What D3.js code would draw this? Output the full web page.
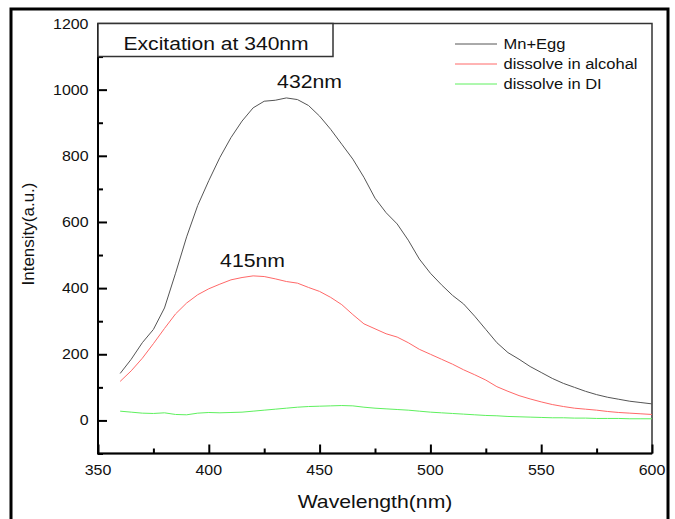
<!DOCTYPE html>
<html>
<head>
<meta charset="utf-8">
<script src="https://cdn.jsdelivr.net/npm/d3@7"></script>
<style>
  body { margin: 0; background: #fff; }
  svg { font-family: Arial, "Liberation Sans", sans-serif; }
</style>
</head>
<body>
<svg width="675" height="519"></svg>
<script>
// wavelength (nm)
const wavelength = [360,365,370,375,380,385,390,395,400,405,410,415,420,425,430,435,440,445,450,455,460,465,470,475,480,485,490,495,500,505,510,515,520,525,530,535,540,545,550,555,560,565,570,575,580,585,590,595,600];

// intensities
const mnEgg = [142,185,235,275,340,445,555,650,725,795,855,905,945,965,968,975,970,952,920,880,835,790,735,672,628,594,545,488,445,410,378,352,315,275,235,205,185,163,145,127,112,100,88,78,70,64,58,54,50];
const alcohol = [118,150,188,232,278,322,355,380,398,412,425,432,437,435,428,420,415,402,390,372,350,320,292,277,262,252,235,215,200,185,170,153,138,122,102,88,75,65,56,48,42,37,34,31,27,24,22,20,18];
const diWater = [28,25,22,21,23,18,17,22,24,23,24,25,28,31,34,37,40,42,43,44,45,44,40,37,35,33,31,28,25,23,21,19,17,15,14,12,11,10,9,8,8,7,7,6,6,6,5,5,5];

const seriesNames = ["Mn+Egg", "dissolve in alcohal", "dissolve in DI"];
const seriesColors = ["#555555", "#ff6868", "#5ef05e"];
const seriesValues = [mnEgg, alcohol, diWater];

const xTicks = [350, 400, 450, 500, 550, 600];
const yTicks = [0, 200, 400, 600, 800, 1000, 1200];
const xMinor = [375, 425, 475, 525, 575];
const yMinor = [-100, 100, 300, 500, 700, 900, 1100];

const svg = d3.select("svg");
const stretch = 1.14; // the original picture is a bit wider than tall

// text helper, horizontally stretched like the source image
function label(px, py, str, size, anchor) {
  return svg.append("text")
    .attr("transform", `translate(${px},${py}) scale(${stretch},1)`)
    .attr("text-anchor", anchor || "start")
    .attr("font-size", size)
    .attr("fill", "#111")
    .text(str);
}

// outer frame
svg.append("rect")
  .attr("x", 11).attr("y", 9)
  .attr("width", 657).attr("height", 530)
  .attr("fill", "none")
  .attr("stroke", "#000")
  .attr("stroke-width", 3);

const pLeft = 98, pRight = 652, pTop = 23.5, pBottom = 453.5;

const x = d3.scaleLinear().domain([350, 600]).range([pLeft, pRight]);
const y = d3.scaleLinear().domain([-100, 1200]).range([pBottom, pTop]);

// plot box (top/right)
svg.append("rect")
  .attr("x", pLeft).attr("y", pTop)
  .attr("width", pRight - pLeft).attr("height", pBottom - pTop)
  .attr("fill", "none")
  .attr("stroke", "#333")
  .attr("stroke-width", 1.5);

// x axis: inward ticks
function xAxis(vals, size) {
  const g = svg.append("g")
    .attr("transform", `translate(0,${pBottom})`)
    .call(d3.axisTop(x).tickValues(vals).tickSize(size).tickFormat(""));
  g.select(".domain").remove();
  g.selectAll("line").attr("stroke", "#000").attr("stroke-width", 2);
}
xAxis(xMinor, 5);
xAxis(xTicks, 9);

function yAxis(vals, size) {
  const g = svg.append("g")
    .attr("transform", `translate(${pLeft},0)`)
    .call(d3.axisRight(y).tickValues(vals).tickSize(size).tickFormat(""));
  g.select(".domain").remove();
  g.selectAll("line").attr("stroke", "#000").attr("stroke-width", 2);
}
yAxis(yMinor, 5);
yAxis(yTicks.slice(0, -1), 9);

// axis lines
svg.append("path")
  .attr("d", `M${pLeft},${pTop}V${pBottom}H${pRight}`)
  .attr("fill", "none")
  .attr("stroke", "#000")
  .attr("stroke-width", 2);

// tick labels
xTicks.forEach(d => label(x(d), 475, d, 14, "middle"));
yTicks.forEach(d => label(88.5, y(d) + 5, d, 14, "end"));

// axis titles
label((pLeft + pRight) / 2, 508, "Wavelength(nm)", 18.6, "middle");

svg.append("text")
  .attr("transform", "translate(34,234) rotate(-90)")
  .attr("text-anchor", "middle")
  .attr("font-size", 17)
  .attr("fill", "#111")
  .text("Intensity(a.u.)");

// curves
const line = d3.line()
  .x((d, i) => x(wavelength[i]))
  .y(d => y(d));

seriesValues.forEach((vals, k) => {
  svg.append("path")
    .datum(vals)
    .attr("d", line)
    .attr("fill", "none")
    .attr("stroke", seriesColors[k])
    .attr("stroke-width", 1);
});

// title box
svg.append("rect")
  .attr("x", pLeft).attr("y", pTop)
  .attr("width", 235).attr("height", 33)
  .attr("fill", "#fff")
  .attr("stroke", "#333")
  .attr("stroke-width", 1.5);
label(123.5, 50, "Excitation at 340nm", 18.5);

// legend
seriesNames.forEach((name, k) => {
  const ly = 44 + k * 20;
  svg.append("line")
    .attr("x1", 455).attr("x2", 497)
    .attr("y1", ly).attr("y2", ly)
    .attr("stroke", seriesColors[k])
    .attr("stroke-width", 1);
  label(503.5, ly + 4.5, name, 14.5);
});

// peak labels
label(309.5, 88, "432nm", 18.6, "middle");
label(252.5, 266.5, "415nm", 18.6, "middle");
</script>
</body>
</html>
